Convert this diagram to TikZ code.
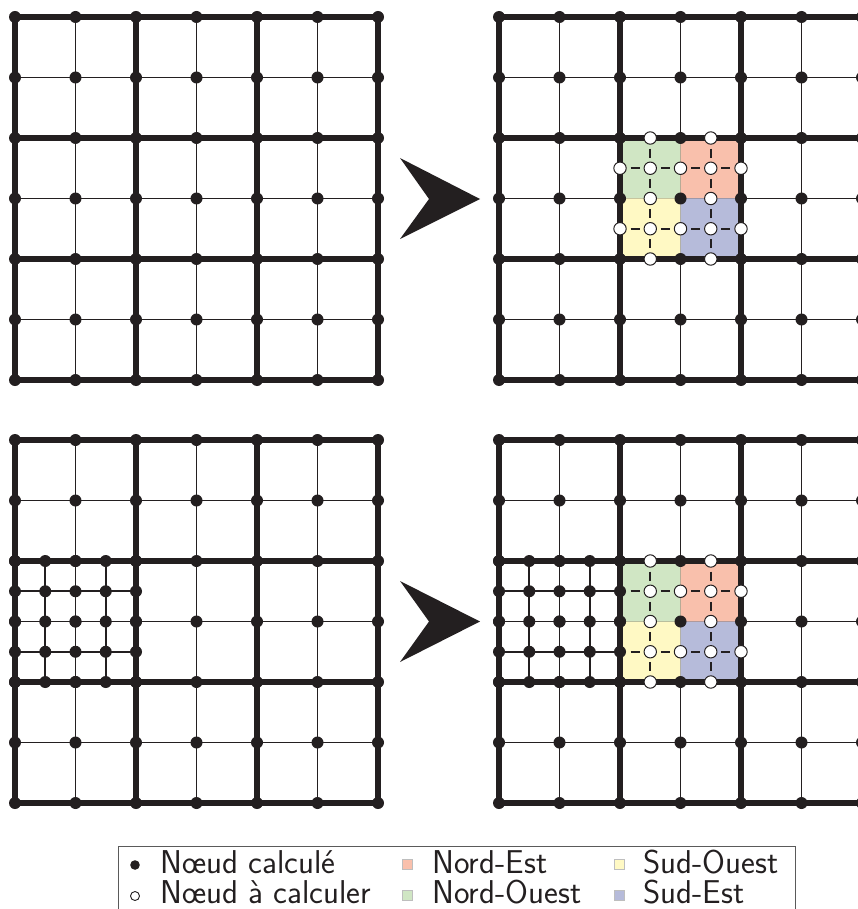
\documentclass[tikz,border=0pt]{standalone}
\usepackage{fontspec}
\definecolor{ink}{RGB}{35,31,32}
\definecolor{cNE}{RGB}{249,192,172}
\definecolor{cNW}{RGB}{208,230,196}
\definecolor{cSW}{RGB}{255,249,196}
\definecolor{cSE}{RGB}{182,187,218}
\definecolor{legframe}{RGB}{90,90,90}
\definecolor{sqframe}{RGB}{190,190,190}
\tikzset{
  thinline/.style={draw=ink, line width=1.6pt},
  thickline/.style={draw=ink, line width=5.2pt},
  fineline/.style={draw=ink, line width=2pt},
  dashline/.style={draw=ink, line width=2.2pt, dash pattern=on 9pt off 21.25pt, dash phase=19.65pt},
  bdot/.style={fill=ink},
  wdot/.style={fill=white, draw=ink, line width=1pt},
  quadfill/.style={rounded corners=5pt},
  legtext/.style={anchor=base west, inner sep=0pt, font=\sffamily\fontsize{33}{38}\selectfont, text=ink},
  legsq/.style={draw=sqframe, line width=0.8pt, minimum size=10pt, inner sep=0pt},
}
\newcommand\gridthin{%
  \foreach \i in {1,3,5} {\draw[thinline] (\i*60.5,0) -- (\i*60.5,363); \draw[thinline] (0,\i*60.5) -- (363,\i*60.5);}}
\newcommand\gridthick{%
  \foreach \i in {0,2,4,6} {\draw[thickline] (\i*60.5,0) -- (\i*60.5,363); \draw[thickline] (0,\i*60.5) -- (363,\i*60.5);}}
\newcommand\griddots{%
  \foreach \i in {0,...,6} {\foreach \j in {0,...,6} {\fill[bdot] (\i*60.5,\j*60.5) circle (6pt);}}}
\newcommand\finegrid{%
  \foreach \v in {30.25,90.75} {\draw[fineline] (\v,121) -- (\v,242);}
  \foreach \v in {151.25,211.75} {\draw[fineline] (0,\v) -- (121,\v);}}
\newcommand\finedots{%
  \foreach \a in {0,30.25,60.5,90.75,121} {\foreach \b in {121,151.25,181.5,211.75,242} {\fill[bdot] (\a,\b) circle (6pt);}}}
\newcommand\quads{%
  \fill[cNW, quadfill] (121,121) rectangle (181.5,181.5);
  \fill[cNE, quadfill] (181.5,121) rectangle (242,181.5);
  \fill[cSW, quadfill] (121,181.5) rectangle (181.5,242);
  \fill[cSE, quadfill] (181.5,181.5) rectangle (242,242);}
\newcommand\dashes{%
  \foreach \v in {151.25,211.75} {\draw[dashline] (121,\v) -- (242,\v); \draw[dashline] (\v,121) -- (\v,242);}}
\newcommand\wdotscommon{%
  \foreach \a/\b in {151.25/121, 211.75/121, 151.25/181.5, 211.75/181.5, 151.25/242, 211.75/242,
    151.25/151.25, 181.5/151.25, 211.75/151.25, 242/151.25,
    151.25/211.75, 181.5/211.75, 211.75/211.75, 242/211.75} {\draw[wdot] (\a,\b) circle (6.2pt);}}
\newcommand\wdotsleft{%
  \foreach \b in {151.25,211.75} {\draw[wdot] (121,\b) circle (6.2pt);}}
\begin{document}
\begin{tikzpicture}[x=1pt,y=-1pt]
\useasboundingbox (0,0) rectangle (858,909);
\clip (0,0) rectangle (858,909);
% top left
\begin{scope}[shift={(15,17)}]
  \gridthin \gridthick \griddots
\end{scope}
% top right
\begin{scope}[shift={(499,17)}]
  \gridthin \quads \gridthick \dashes \griddots \wdotscommon \wdotsleft
\end{scope}
% bottom left
\begin{scope}[shift={(15,440)}]
  \gridthin \gridthick \finegrid \griddots \finedots
\end{scope}
% bottom right
\begin{scope}[shift={(499,440)}]
  \gridthin \quads \gridthick \dashes \finegrid \griddots \finedots \wdotscommon
\end{scope}
% arrows
\fill[ink] (400,158) -- (480,199) -- (400,239) -- (429,199) -- cycle;
\fill[ink] (400,581) -- (480,621.5) -- (400,662) -- (429,621.5) -- cycle;
% legend
\draw[legframe, line width=1pt] (118,846) rectangle (795,930);
\fill[ink] (135,865) circle (4.8pt);
\draw[ink, line width=0.9pt, fill=white] (135,896) circle (4.5pt);
\node[legsq, fill=cNE] (sqNE) at (407,864) {};
\node[legsq, fill=cNW] (sqNW) at (407,895) {};
\node[legsq, fill=cSW] (sqSW) at (619.5,864) {};
\node[legsq, fill=cSE] (sqSE) at (619.5,895) {};
\node[legtext] (t1) at (160,873) {Nœud calculé};
\node[legtext] (t2) at (160,903) {Nœud à calculer};
\node[legtext] (t3) at (432,873) {Nord-Est};
\node[legtext] (t4) at (432,903) {Nord-Ouest};
\node[legtext] (t5) at (643,873) {Sud-Ouest};
\node[legtext] (t6) at (643,903) {Sud-Est};
\end{tikzpicture}
\end{document}
